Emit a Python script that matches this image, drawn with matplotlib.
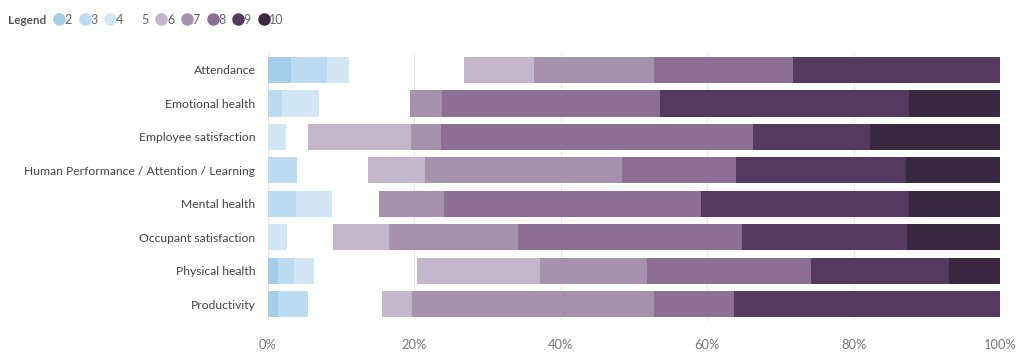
import matplotlib
matplotlib.use("Agg")
import matplotlib.pyplot as plt
from matplotlib.lines import Line2D
import numpy as np

plt.rcParams['font.family'] = ['Lato', 'DejaVu Sans']

categories = ["Attendance", "Emotional health", "Employee satisfaction",
              "Human Performance / Attention / Learning", "Mental health",
              "Occupant satisfaction", "Physical health", "Productivity"]
series_names = ["2", "3", "4", "5", "6", "7", "8", "9", "10"]
# percent values per series, in category order
s2 = [3.2, 0.0, 0.0, 0.0, 0.0, 0.0, 1.4, 1.4]
s3 = [4.8, 1.9, 0.0, 3.9, 3.8, 0.0, 2.2, 4.0]
s4 = [3.1, 5.0, 2.4, 0.0, 5.0, 2.6, 2.7, 0.0]
s5 = [15.7, 12.5, 3.0, 9.7, 6.3, 6.3, 14.0, 10.2]
s6 = [9.5, 0.0, 14.2, 7.8, 0.0, 7.6, 16.8, 4.1]
s7 = [16.5, 4.4, 4.1, 27.0, 8.9, 17.7, 14.7, 33.1]
s8 = [18.9, 29.8, 42.6, 15.5, 35.2, 30.5, 22.4, 10.8]
s9 = [28.3, 34.0, 16.0, 23.3, 28.3, 22.6, 18.9, 36.4]
s10 = [0.0, 12.4, 17.7, 12.8, 12.5, 12.7, 6.9, 0.0]
series_values = [s2, s3, s4, s5, s6, s7, s8, s9, s10]

colors = ["#a3cdea", "#badbf1", "#d2e6f4", "none", "#c4b6cb", "#a792ad",
          "#8b7094", "#533a5e", "#39283f"]

fig = plt.figure(figsize=(10.24, 3.61), dpi=100)
ax = fig.add_axes([268/1024, 40/361, 732/1024, 267.75/361])

y = np.arange(len(categories))
left = np.zeros(len(categories))
for name, vals, c in zip(series_names, series_values, colors):
    v = np.array(vals) / 100.0
    if c == "none":
        ax.barh(y, v, left=left, height=0.78, color="white", alpha=0.0, linewidth=0)
    else:
        ax.barh(y, v, left=left, height=0.78, color=c, linewidth=0, zorder=3)
    left += v

ax.set_xlim(0, 1)
ax.set_ylim(len(categories) - 0.5, -0.5)
ax.set_yticks(y)
ax.set_yticklabels(categories, fontsize=8.75, color="#444444")
ax.set_xticks(np.linspace(0, 1, 6))
ax.set_xticklabels([f"{int(t*100)}%" for t in np.linspace(0, 1, 6)], fontsize=9.25, color="#777777")
ax.tick_params(axis='both', length=0)
ax.tick_params(axis='y', pad=9)
ax.tick_params(axis='x', pad=13)
ax.grid(axis='x', color="#e8e8e8", linewidth=0.9, zorder=0)
ax.set_axisbelow(True)
for sp in ax.spines.values():
    sp.set_visible(False)

fig.text(8/1024, 1 - 20/361, "Legend", fontsize=8.5, fontweight='bold', color="#555555",
         va='center', ha='left')
handles = []
for name, c in zip(series_names, colors):
    mc = "white" if c == "none" else c
    handles.append(Line2D([], [], linestyle='none', marker='o', markersize=8,
                          markerfacecolor=mc, markeredgecolor=mc, label=name))
leg = fig.legend(handles=handles, ncol=9, loc='center left',
                 bbox_to_anchor=(52/1024, 1 - 20/361), frameon=False,
                 handletextpad=-0.1, columnspacing=0.42, handlelength=1.0,
                 borderaxespad=0, borderpad=0)
for t in leg.get_texts():
    t.set_color("#666666")
    t.set_fontsize(9)

fig.savefig("out.png", dpi=100)
